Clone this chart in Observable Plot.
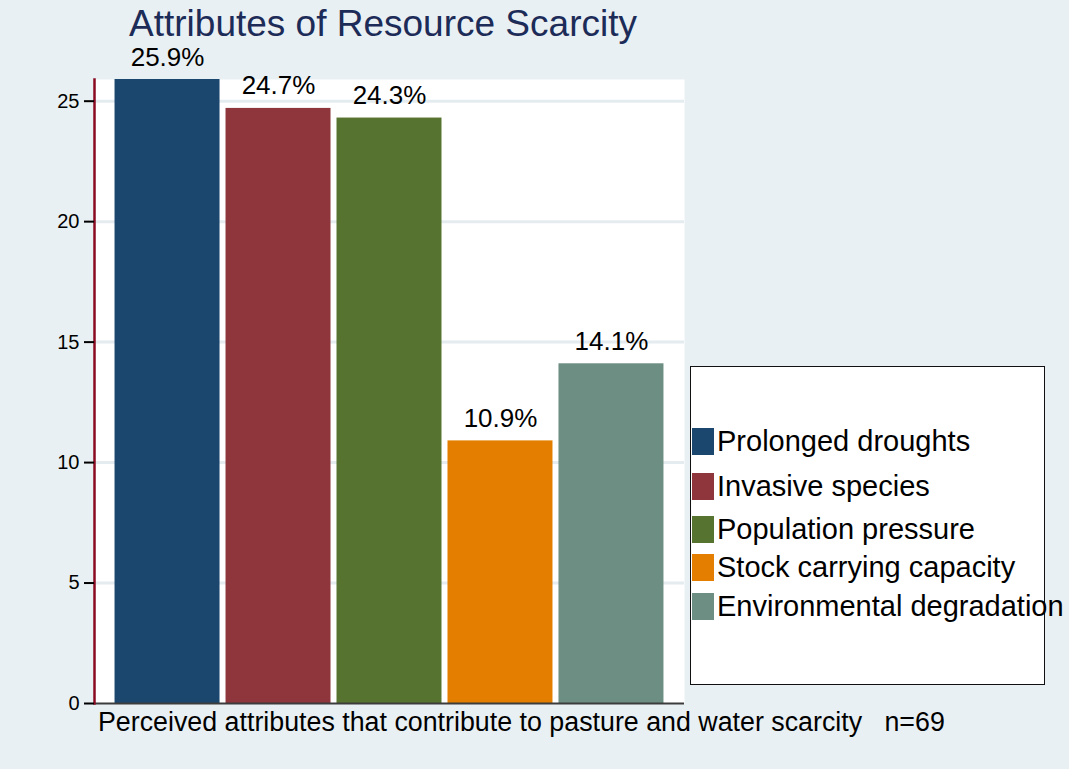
<!DOCTYPE html>
<html>
<head>
<meta charset="utf-8">
<script src="https://cdn.jsdelivr.net/npm/d3@7"></script>
<script src="https://cdn.jsdelivr.net/npm/@observablehq/plot@0.6"></script>
<style>
  html, body { margin: 0; padding: 0; background: #e9f0f3; }
  #wrap { position: relative; width: 1069px; height: 769px; overflow: hidden; background: #e9f0f3;
          font-family: "Liberation Sans", Arial, sans-serif; }
  #wrap svg { position: absolute; left: 0; top: 0; }
  #title { position: absolute; left: 0; width: 766px; top: 5px; text-align: center;
           font-size: 37px; line-height: 37px; color: #1c2b57; white-space: nowrap; }
  #caption { position: absolute; left: 98px; top: 707px; font-size: 26.8px; line-height: 30px;
             color: #000; white-space: pre; }
  #legend { position: absolute; left: 690px; top: 366px; width: 353px; height: 317px;
            background: #fff; border: 1.5px solid #111; overflow: visible; }
  .row { position: absolute; left: 1px; height: 27px; display: flex; align-items: center; white-space: nowrap; }
  .sw { width: 22px; height: 27px; flex: none; }
  .lab { margin-left: 3px; font-size: 29px; line-height: 27px; color: #000; }
</style>
</head>
<body>
<div id="wrap">
  <div id="title"></div>
  <div id="caption"></div>
  <div id="legend"></div>
</div>
<script>
// ---- data ----
const categories = ["Prolonged droughts", "Invasive species", "Population pressure", "Stock carrying capacity", "Environmental degradation"];
const values = [25.9, 24.7, 24.3, 10.9, 14.1];
const barColors = ["#1b476f", "#8f353c", "#56742f", "#e37e00", "#6d8e83"];
const yTicks = [0, 5, 10, 15, 20, 25];
const titleText = "Attributes of Resource Scarcity";
const captionText = "Perceived attributes that contribute to pasture and water scarcity   n=69";

// ---- layout (not data) ----
const legendRowTops = [61, 106, 149, 187, 226];

const rows = categories.map((c, i) => ({cat: c, value: values[i], label: values[i].toFixed(1) + "%"}));

const chart = Plot.plot({
  width: 1069,
  height: 769,
  marginLeft: 94,
  marginRight: 385,
  marginTop: 79,
  marginBottom: 66,
  style: {background: "transparent", fontFamily: "'Liberation Sans', Arial, sans-serif", color: "#000", overflow: "visible"},
  x: {domain: categories, paddingInner: 0.054, paddingOuter: 0.185, round: false, axis: null},
  y: {domain: [0, 25.9]},
  color: {domain: categories, range: barColors},
  marks: [
    Plot.frame({fill: "#ffffff", stroke: null}),
    Plot.gridY(yTicks.filter(d => d > 0), {stroke: "#e4ecf0", strokeOpacity: 1, strokeWidth: 3}),
    Plot.barY(rows, {x: "cat", y: "value", fill: "cat", inset: 0}),
    Plot.text(rows, {x: "cat", y: "value", text: "label", lineAnchor: "bottom", dy: -14, fontSize: 26, fill: "#000"}),
    Plot.ruleY([0], {stroke: "#3c3c3c", strokeWidth: 2}),
    Plot.frame({anchor: "left", stroke: "#8a0a22", strokeWidth: 2.5}),
    Plot.axisY(yTicks, {tickSize: 10, tickPadding: 5, fontSize: 20, stroke: "#000", strokeWidth: 2, label: null, fill: "#000"})
  ]
});

const wrap = document.getElementById("wrap");
wrap.insertBefore(chart, wrap.firstChild);

document.getElementById("title").textContent = titleText;
document.getElementById("caption").textContent = captionText;

const legend = document.getElementById("legend");
categories.forEach((c, i) => {
  const row = document.createElement("div");
  row.className = "row";
  row.style.top = legendRowTops[i] + "px";
  const sw = document.createElement("div");
  sw.className = "sw";
  sw.style.background = barColors[i];
  const lab = document.createElement("div");
  lab.className = "lab";
  lab.textContent = c;
  row.appendChild(sw);
  row.appendChild(lab);
  legend.appendChild(row);
});
</script>
</body>
</html>
